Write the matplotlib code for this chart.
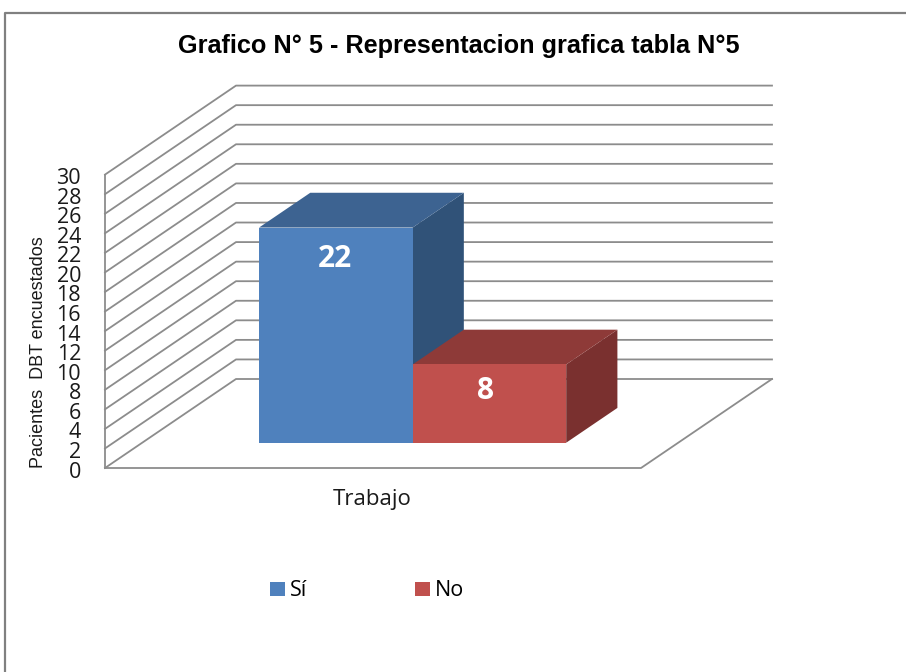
import matplotlib
matplotlib.use('Agg')
import matplotlib.pyplot as plt
from matplotlib.patches import Patch, Polygon

categories = ['Sí', 'No']
values = [22, 8]
y_ticks = list(range(0, 31, 2))
colors = ['#4F81BD', '#C0504D']
top_colors = ['#3D6391', '#8E3A38']
side_colors = ['#305278', '#7A302F']
label_dx = [-1, -4]
label_dy = [31, 27]

GRID = '#8C8C8C'
# pixel layout of the fake 3D box
X0, Y0 = 105, 468
WIDTH = 536
DX, DY = 131, -89
UNIT = 9.78
BAR_W = 0.2865
BAR_START = 0.218
BAR_D0 = 0.284
BAR_D1 = 0.675


def proj(x, v, d):
    """x: 0-1 across the floor, v: axis value, d: 0-1 into the depth."""
    return (X0 + x * WIDTH + d * DX, Y0 - v * UNIT + d * DY)


def draw_bar(ax, i, value):
    x0 = BAR_START + i * BAR_W
    x1 = x0 + BAR_W
    front = [proj(x0, 0, BAR_D0), proj(x1, 0, BAR_D0), proj(x1, value, BAR_D0), proj(x0, value, BAR_D0)]
    top = [proj(x0, value, BAR_D0), proj(x1, value, BAR_D0), proj(x1, value, BAR_D1), proj(x0, value, BAR_D1)]
    side = [proj(x1, 0, BAR_D0), proj(x1, 0, BAR_D1), proj(x1, value, BAR_D1), proj(x1, value, BAR_D0)]
    z = 3 + i
    ax.add_patch(Polygon(side, closed=True, fc=side_colors[i], ec='none', zorder=z))
    ax.add_patch(Polygon(top, closed=True, fc=top_colors[i], ec='none', zorder=z))
    ax.add_patch(Polygon(front, closed=True, fc=colors[i], ec='none', zorder=z))
    lx, ly = proj((x0 + x1) / 2, value, BAR_D0)
    ax.text(lx + label_dx[i], ly + label_dy[i], str(value), color='white', fontsize=21.5,
            fontweight='bold', family='Open Sans', ha='center', va='center', zorder=10)


def plot_chart():
    fig = plt.figure(figsize=(9.06, 6.72), dpi=100)
    ax = fig.add_axes([0, 0, 1, 1])
    ax.set_xlim(0, 906)
    ax.set_ylim(672, 0)
    ax.axis('off')

    # outer frame
    ax.plot([5, 5, 906], [672, 13, 13], color='#808080', lw=1.6)

    # walls and gridlines
    for v in y_ticks:
        a, b, c = proj(0, v, 0), proj(0, v, 1), proj(1, v, 1)
        ax.plot([a[0], b[0], c[0]], [a[1], b[1], c[1]], color=GRID, lw=1.3, zorder=1)
        ax.text(81, a[1] + 4, str(v), fontsize=15.5, family='Open Sans', color='#1a1a1a',
                ha='right', va='center')
    a, b = proj(0, 0, 0), proj(0, y_ticks[-1], 0)
    ax.plot([a[0], b[0]], [a[1], b[1]], color=GRID, lw=1.3, zorder=1)
    a, b, c = proj(0, 0, 0), proj(1, 0, 0), proj(1, 0, 1)
    ax.plot([a[0], b[0], c[0]], [a[1], b[1], c[1]], color=GRID, lw=1.3, zorder=1)

    for i, value in enumerate(values):
        draw_bar(ax, i, value)

    ax.text(459, 46, 'Grafico N° 5 - Representacion grafica tabla N°5', fontsize=18.2,
            fontweight='bold', family='Liberation Sans', ha='center', va='center', color='black')
    ax.text(39, 352, 'Pacientes  DBT encuestados', fontsize=13, family='Liberation Sans',
            rotation=90, ha='center', va='center', color='#1a1a1a')
    ax.text(372.5, 500, 'Trabajo', fontsize=16, family='Open Sans', ha='center', va='center', color='#1a1a1a')

    handles = [Patch(fc=c, ec='none', label=n) for c, n in zip(colors, categories)]
    ax.legend(handles=handles, ncol=2, frameon=False, loc='center left', bbox_to_anchor=(251, 591),
              bbox_transform=ax.transData, prop={'family': 'Open Sans', 'size': 15.5},
              handlelength=0.68, handleheight=0.68, handletextpad=0.25, columnspacing=5.0)

    fig.savefig('out.png', dpi=100)
    plt.close(fig)


if __name__ == "__main__":
    plot_chart()
